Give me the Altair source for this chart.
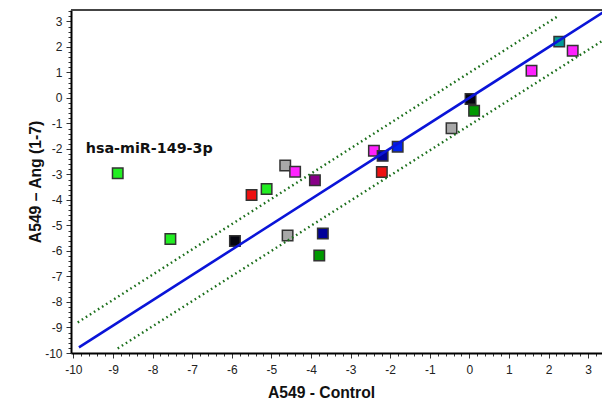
import altair as alt
import pandas as pd

# ---- data ----
ctrl = [-8.88, -7.55, -5.92, -5.50, -5.12, -4.65, -4.59, -4.40, -3.90, -3.79, -3.70,
        -2.41, -2.21, -2.19, -1.81, -0.45, 0.03, 0.12, 1.57, 2.27, 2.61]
ang = [-2.95, -5.53, -5.61, -3.80, -3.57, -2.65, -5.39, -2.89, -3.23, -6.18, -5.31,
       -2.07, -2.90, -2.27, -1.91, -1.19, -0.04, -0.50, 1.07, 2.21, 1.85]
group = ["lime", "lime", "black", "red", "lime", "grey", "grey", "magenta", "purple", "green", "navy",
         "magenta", "red", "navy", "blue", "grey", "black", "green", "magenta", "teal", "magenta"]
label = ["hsa-miR-149-3p"] + [""] * 20

# regression line and +/- band (endpoints)
line_x = [-9.86, 3.40]
line_y = [-9.78, 3.38]
upper_x = [-9.89, 2.26]
upper_y = [-8.80, 3.23]
lower_x = [-8.88, 3.40]
lower_y = [-9.82, 2.28]

major_ticks = list(range(-10, 4))
minor_ticks = [round(-10 + 0.2 * k, 1) for k in range(0, 68)]

color_domain = ["lime", "grey", "magenta", "purple", "red", "black", "navy", "green", "blue", "teal"]
color_range = ["#22ee22", "#a8a8a8", "#ff22ff", "#880088", "#ee1111", "#050510", "#000099",
               "#009900", "#0022ee", "#009999"]

pts = pd.DataFrame({"x": ctrl, "y": ang, "g": group, "label": label})
lines = pd.DataFrame({
    "x": line_x + upper_x + lower_x,
    "y": line_y + upper_y + lower_y,
    "s": ["fit"] * 2 + ["upper"] * 2 + ["lower"] * 2,
})

W, H = 531, 343
xdom = [-10.06, 3.35]
ydom = [-10.0, 3.45]

is_int = "abs(datum.value - round(datum.value)) < 0.01"
lab_expr = "abs(datum.value - round(datum.value)) < 0.01 ? '' + round(datum.value) : ''"

common = dict(
    values=minor_ticks, labelExpr=lab_expr, labelOverlap=False, labelBound=False,
    labelFlush=False, grid=False, tickCount=len(minor_ticks),
    domainColor="#000000", domainWidth=2, tickColor="#333333",
    tickSize={"condition": {"test": is_int, "value": 5}, "value": 3},
    labelFont="Liberation Sans", labelFontSize=12, labelColor="#222222",
    titleFont="Liberation Sans", titleFontSize=15.7, titleFontWeight="bold", titleColor="#111111",
)
xaxis = alt.Axis(
    labelPadding=6, title="A549 - Control", titleX=250, titleY=44,
    titleBaseline="alphabetic", **common,
)
yaxis = alt.Axis(
    labelPadding=4, title="A549 – Ang (1-7)", titleX=-36, titleY=H / 2,
    titleAngle=-90, titleBaseline="middle", titleAlign="center", **common,
)

xs = alt.Scale(domain=xdom, nice=False, zero=False)
ys = alt.Scale(domain=ydom, nice=False, zero=False)
X = alt.X("x:Q", scale=xs, axis=xaxis)
Y = alt.Y("y:Q", scale=ys, axis=yaxis)

points = alt.Chart(pts).mark_square(size=110, opacity=1, stroke="#333333", strokeWidth=1.5).encode(
    x=X, y=Y,
    fill=alt.Fill("g:N", scale=alt.Scale(domain=color_domain, range=color_range), legend=None),
)

fit = alt.Chart(lines).transform_filter(alt.datum.s == "fit").mark_line(
    color="#0a14d8", strokeWidth=2.6, clip=True
).encode(x=X, y=Y, detail="s:N")

band = alt.Chart(lines).transform_filter(alt.datum.s != "fit").mark_line(
    color="#1a6e1a", strokeWidth=2.4, strokeDash=[1.6, 3.2], clip=True
).encode(x=X, y=Y, detail="s:N")

text = alt.Chart(pts).transform_filter(alt.datum.label != "").mark_text(
    align="left", baseline="alphabetic", dx=-32, dy=-20,
    font="DejaVu Sans", fontSize=14.3, fontWeight="bold", color="#111111"
).encode(x=X, y=Y, text="label:N")

top = alt.Chart(pts).mark_rule(color="#444444", strokeWidth=2).encode(
    y=alt.value(0), x=alt.value(0), x2=alt.value(W + 5)
)

chart = alt.layer(points, band, fit, text, top).properties(
    width=W, height=H,
    autosize=alt.AutoSizeParams(type="none"),
    padding={"left": 71, "top": 10, "right": 0, "bottom": 51},
).configure_view(stroke=None).configure(background="white")

chart.save("out.html", embed_options={"renderer": "svg", "actions": False})
